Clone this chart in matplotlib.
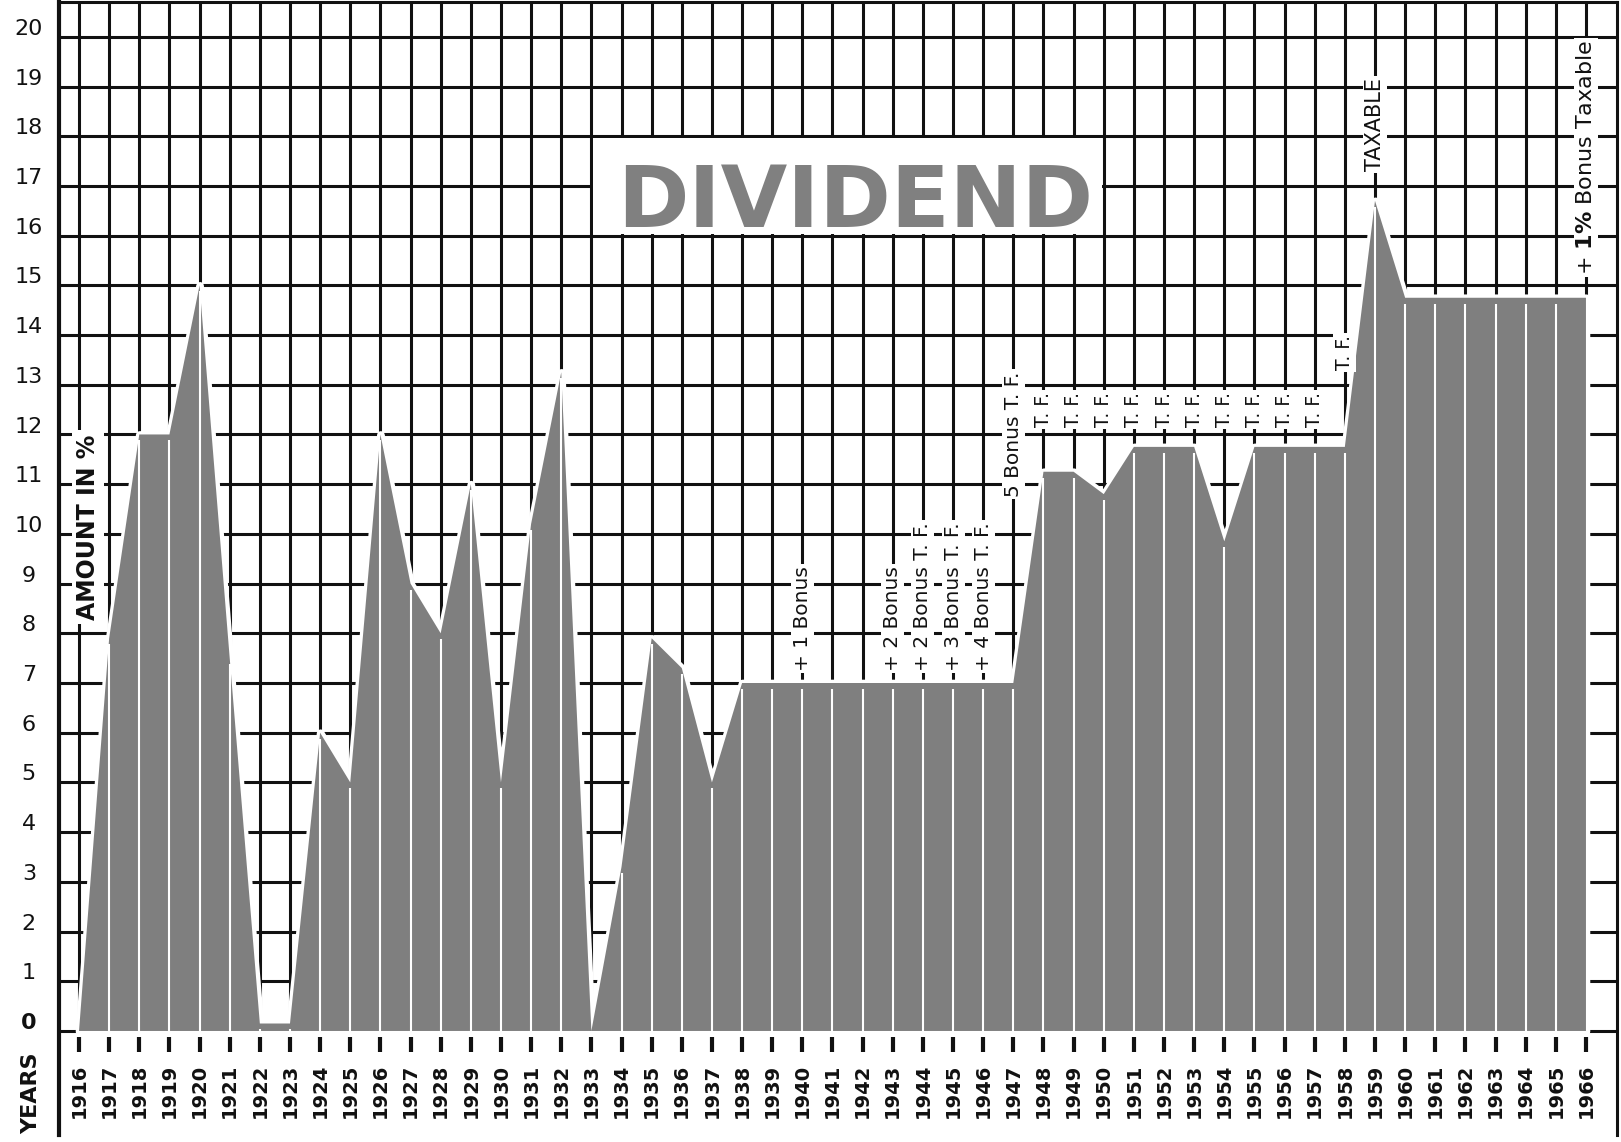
import matplotlib
matplotlib.use("Agg")
import matplotlib.pyplot as plt
from matplotlib.patches import Rectangle
import numpy as np

# ---------------- data ----------------
years = list(range(1916, 1967))
dividend = [0, 7.9, 12, 12, 15, 7.5, 0.15, 0.15, 6, 5,
            12, 9, 8, 11, 5, 10.2, 13.25, 0, 3.3, 7.9,
            7.3, 5, 7, 7, 7, 7, 7, 7, 7, 7,
            7, 7, 11.25, 11.25, 10.8, 11.75, 11.75, 11.75, 9.85, 11.75,
            11.75, 11.75, 11.75, 16.7, 14.75, 14.75, 14.75, 14.75, 14.75, 14.75,
            14.75]
ytick_values = list(range(0, 21))
ytick_labels = [str(v) for v in ytick_values]
year_labels = [str(y) for y in years]

notes_years = [1940, 1943, 1944, 1945, 1946, 1947,
               1948, 1949, 1950, 1951, 1952, 1953, 1954, 1955, 1956, 1957,
               1958, 1959, 1966]
notes_text = ["+ 1 Bonus", "+ 2 Bonus", "+ 2 Bonus T. F.", "+ 3 Bonus T. F.",
              "+ 4 Bonus T. F.", "5 Bonus T. F.",
              "T. F.", "T. F.", "T. F.", "T. F.", "T. F.", "T. F.", "T. F.",
              "T. F.", "T. F.", "T. F.",
              "T. F.", "TAXABLE", "+ $\\mathbf{1\\%}$ Bonus Taxable"]
notes_base = [7.25, 7.25, 7.25, 7.25, 7.25, 10.75,
              12.15, 12.15, 12.15, 12.15, 12.15, 12.15, 12.15, 12.15, 12.15, 12.15,
              13.3, 17.3, 15.2]

# ---------------- figure ----------------
W, H = 1621, 1142
fig = plt.figure(figsize=(W / 100, H / 100), dpi=100)
fig.patch.set_facecolor("white")

ax = fig.add_axes([59 / W, (H - 1135) / H, (1617 - 59) / W, (1135 - 2) / H])
x_left, x_right = 1915.336, 1967.03
y_bot, y_top = -2.093, 20.70
ax.set_xlim(x_left, x_right)
ax.set_ylim(y_bot, y_top)
ax.set_xticks([])
ax.set_yticks([])
ink = "#111111"
for side in ["left", "top", "right"]:
    ax.spines[side].set_color(ink)
ax.spines["left"].set_linewidth(3.0)
ax.spines["top"].set_linewidth(2.2)
ax.spines["right"].set_linewidth(2.2)
ax.spines["bottom"].set_visible(False)

# grid
ax.hlines(ytick_values, x_left, x_right, color=ink, lw=2.2, zorder=1)
ax.vlines(years, 0, y_top, color=ink, lw=2.2, zorder=1)

# year ticks below zero line
ax.vlines(years, -0.42, -0.12, color=ink, lw=3.0, zorder=5)

# DIVIDEND title box
ax.add_patch(Rectangle((1933.06, 16.035), 16.88, 1.93, facecolor="white",
                       edgecolor="none", zorder=1.5))
ax.text(1941.75, 16.17, "DIVIDEND", fontsize=62, fontweight="bold",
        color="#808080", ha="center", va="baseline", zorder=2)

# area: white halo, grey fill, white year separators
ax.fill_between(years, 0, dividend, facecolor="white", edgecolor="white",
                lw=5.5, zorder=2.5)
ax.fill_between(years, 0, dividend, facecolor="#7f7f7f", lw=0, zorder=3)
sep_top = np.maximum(np.array(dividend) - 0.12, 0)
ax.vlines(years[1:-1], 0, sep_top[1:-1], color="white", lw=1.5, zorder=4)

# y labels
ytrans = ax.get_yaxis_transform()
for v, lab in zip(ytick_values, ytick_labels):
    ax.text(-0.0193, v + 0.16, lab, transform=ytrans, ha="center",
            va="center", fontsize=16, color=ink,
            fontweight="bold" if v == 0 else "normal", clip_on=False)

# year labels
for y, lab in zip(years, year_labels):
    ax.text(y, -0.66, lab, rotation=90, ha="center", va="top",
            fontsize=14, fontweight="bold", color=ink)

ax.text(-0.018, -1.25, "YEARS", transform=ytrans, rotation=90,
        ha="center", va="center", fontsize=16, fontweight="bold",
        color=ink, clip_on=False)

ax.text(1916.3, 10.14, "AMOUNT IN %", rotation=90, ha="center",
        va="center", fontsize=17, fontweight="bold", color=ink, zorder=6,
        bbox=dict(facecolor="white", edgecolor="none", pad=3))

# annotations
for x, base, txt in zip(notes_years, notes_base, notes_text):
    if "Taxable" in txt:
        fs = 16
    elif txt == "TAXABLE":
        fs = 15
    elif txt == "T. F.":
        fs = 13.5
    else:
        fs = 14.5
    ax.text(x, base, txt, rotation=90, ha="center", va="bottom",
            fontsize=fs, color=ink, zorder=6,
            bbox=dict(facecolor="white", edgecolor="none", pad=1.5))

fig.savefig("out.png", dpi=100, facecolor="white")
